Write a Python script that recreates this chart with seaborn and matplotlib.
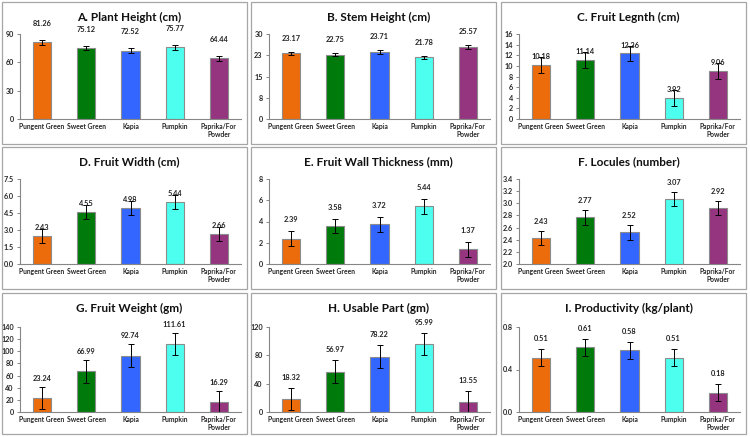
import numpy as np
import pandas as pd
import matplotlib
matplotlib.use("Agg")
import matplotlib.pyplot as plt
import seaborn as sns
from matplotlib.patches import Rectangle

sns.set_theme(style="white")
plt.rcParams['font.family'] = ['Lato', 'DejaVu Sans']

categories = ["Pungent Green", "Sweet Green", "Kapia", "Pumpkin", "Paprika/For\nPowder"]
colors = ["#EC6C0C", "#007A0A", "#3366FF", "#4DFFEE", "#953580"]

titles = ["A. Plant Height (cm)", "B. Stem Height (cm)", "C. Fruit Legnth (cm)",
          "D. Fruit Width (cm)", "E. Fruit Wall Thickness (mm)", "F. Locules (number)",
          "G. Fruit Weight (gm)", "H. Usable Part (gm)", "I. Productivity (kg/plant)"]

plant_height = [81.26, 75.12, 72.52, 75.77, 64.44]
stem_height = [23.17, 22.75, 23.71, 21.78, 25.57]
fruit_length = [10.18, 11.14, 12.36, 3.92, 9.06]
fruit_width = [2.43, 4.55, 4.98, 5.44, 2.66]
wall_thickness = [2.39, 3.58, 3.72, 5.44, 1.37]
locules = [2.43, 2.77, 2.52, 3.07, 2.92]
fruit_weight = [23.24, 66.99, 92.74, 111.61, 16.29]
usable_part = [18.32, 56.97, 78.22, 95.99, 13.55]
productivity = [0.51, 0.61, 0.58, 0.51, 0.18]

err_plant_height = [2.5, 2.5, 2.5, 2.5, 2.5]
err_stem_height = [0.6, 0.6, 0.7, 0.6, 0.7]
err_fruit_length = [1.5, 1.5, 1.45, 1.45, 1.5]
err_fruit_width = [0.62, 0.62, 0.62, 0.62, 0.62]
err_wall_thickness = [0.7, 0.7, 0.7, 0.7, 0.7]
err_locules = [0.12, 0.12, 0.12, 0.12, 0.12]
err_fruit_weight = [18.5, 18.5, 18.5, 18.5, 18.5]
err_usable_part = [16, 16, 16, 16, 16]
err_productivity = [0.08, 0.08, 0.08, 0.08, 0.08]

ticks_a = [0, 30, 60, 90]
ticks_b = [0, 7.5, 15, 22.5, 30]
labels_b = ["0", "8", "15", "23", "30"]
ticks_c = [0, 2, 4, 6, 8, 10, 12, 14, 16]
ticks_d = [0.0, 1.5, 3.0, 4.5, 6.0, 7.5]
ticks_e = [0, 2, 4, 6, 8]
ticks_f = [2.0, 2.2, 2.4, 2.6, 2.8, 3.0, 3.2, 3.4]
ticks_g = [0, 20, 40, 60, 80, 100, 120, 140]
ticks_h = [0, 40, 80, 120]
ticks_i = [0.0, 0.4, 0.8]

values = [plant_height, stem_height, fruit_length, fruit_width, wall_thickness,
          locules, fruit_weight, usable_part, productivity]
errors = [err_plant_height, err_stem_height, err_fruit_length, err_fruit_width,
          err_wall_thickness, err_locules, err_fruit_weight, err_usable_part, err_productivity]
ticks = [ticks_a, ticks_b, ticks_c, ticks_d, ticks_e, ticks_f, ticks_g, ticks_h, ticks_i]
tick_labels = [["%g" % t for t in ticks_a], labels_b, ["%g" % t for t in ticks_c],
               ["%.1f" % t for t in ticks_d], ["%g" % t for t in ticks_e],
               ["%.1f" % t for t in ticks_f], ["%g" % t for t in ticks_g],
               ["%g" % t for t in ticks_h], ["%.1f" % t for t in ticks_i]]

# layout (pixels)
W, H = 750, 437
panel_x = [2, 251, 501]
panel_y = [2, 147, 293]
panel_w = 245
panel_h = [142, 142, 141]
label_offsets = [13, 10, -3, -2, 8, 6, 5, 7, 7]

fig = plt.figure(figsize=(W / 100, H / 100), dpi=100)

for i in range(9):
    r, c = divmod(i, 3)
    px, py, ph = panel_x[c], panel_y[r], panel_h[r]
    fig.patches.append(Rectangle((px / W, 1 - (py + ph) / H), panel_w / W, ph / H,
                                 transform=fig.transFigure, fill=False,
                                 edgecolor="#A6A6A6", linewidth=0.9))
    ax_top = py + (32 if r < 2 else 34)
    ax_bot = py + (117 if r < 2 else 119)
    ax = fig.add_axes([(px + 18) / W, 1 - ax_bot / H, 221 / W, (ax_bot - ax_top) / H])
    df = pd.DataFrame({"cat": categories, "val": values[i]})
    sns.barplot(data=df, x="cat", y="val", hue="cat", palette=colors, legend=False,
                saturation=1, width=0.41, edgecolor="#8C8C8C", linewidth=0.8,
                errorbar=None, ax=ax)
    xs = np.arange(len(categories))
    ax.errorbar(xs, values[i], yerr=errors[i], fmt="none", ecolor="black",
                elinewidth=0.7, capsize=2, capthick=0.7)
    for x, v, e in zip(xs, values[i], errors[i]):
        ax.annotate(f"{v:.2f}", (x, v + e), xytext=(0, label_offsets[i]),
                    textcoords="offset pixels", ha="center", va="bottom",
                    fontsize=5.3, fontweight="bold", color="#222222",
                    annotation_clip=False)
    ax.set_ylim(ticks[i][0], ticks[i][-1])
    ax.set_yticks(ticks[i])
    ax.set_yticklabels(tick_labels[i], fontsize=5.2, fontweight="bold")
    ax.set_xlim(-0.5, len(categories) - 0.5)
    ax.set_xticks(xs)
    ax.set_xticklabels(categories, fontsize=4.9, fontweight="bold", linespacing=1.1)
    ax.set_xticks(np.arange(-0.5, len(categories), 1.0), minor=True)
    ax.tick_params(axis="x", which="major", length=0, pad=3)
    ax.tick_params(axis="x", which="minor", length=2.5, color="#868686", width=0.7, direction="out")
    ax.tick_params(axis="y", length=2.5, color="#868686", width=0.7, direction="out", pad=2,
                   left=True)
    ax.set_xlabel("")
    ax.set_ylabel("")
    for s in ["top", "right"]:
        ax.spines[s].set_visible(False)
    for s in ["left", "bottom"]:
        ax.spines[s].set_color("#868686")
        ax.spines[s].set_linewidth(0.8)
    fig.text((px + panel_w / 2 + 5) / W, 1 - (py + 15) / H, titles[i], ha="center",
             va="center", fontsize=8.5, fontweight="bold", color="#111111")

fig.savefig("out.png", dpi=100)
